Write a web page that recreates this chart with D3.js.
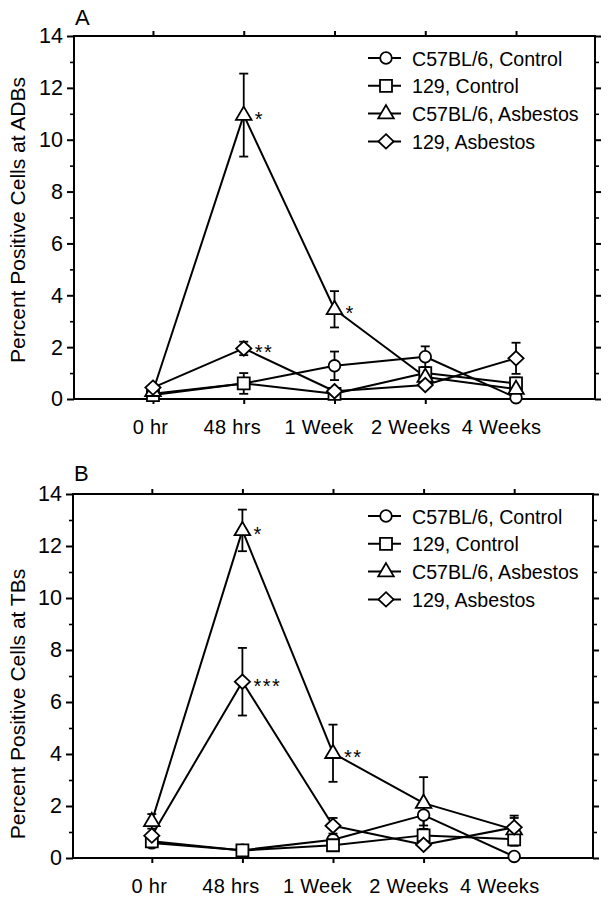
<!DOCTYPE html>
<html><head><meta charset="utf-8">
<script src="https://cdn.jsdelivr.net/npm/d3@7"></script>
<style>
html,body{margin:0;padding:0;background:#fff;}
svg{display:block;font-family:"Liberation Sans",Arial,Helvetica,sans-serif;}
</style></head>
<body><svg id="chart" width="611" height="900"></svg>
<script>
// ---------- data ----------
const categories = ["0 hr", "48 hrs", "1 Week", "2 Weeks", "4 Weeks"];
const seriesNames = ["C57BL/6, Control", "129, Control", "C57BL/6, Asbestos", "129, Asbestos"];
const seriesShapes = ["circle", "square", "triangle", "diamond"];
const yMajorTicks = [0, 2, 4, 6, 8, 10, 12, 14];
const yMinorTicks = [1, 3, 5, 7, 9, 11, 13];

// Panel A: ADBs
const adbC57Control    = [0.2, 0.6, 1.28, 1.63, 0.05];
const adbC57ControlErr = [0, 0, 0.55, 0.4, 0];
const adb129Control    = [0.15, 0.6, 0.2, 1.0, 0.6];
const adb129ControlErr = [0, 0.4, 0, 0.15, 0.2];
const adbC57Asbestos    = [0.3, 10.95, 3.46, 0.85, 0.38];
const adbC57AsbestosErr = [0, 1.6, 0.7, 0.2, 0.45];
const adb129Asbestos    = [0.44, 1.95, 0.3, 0.54, 1.57];
const adb129AsbestosErr = [0, 0.26, 0, 0, 0.6];
const adbStars = [["*", 2, 1], ["**", 3, 1], ["*", 2, 2]]; // [label, seriesIndex, categoryIndex]

// Panel B: TBs
const tbC57Control    = [0.58, 0.3, 0.7, 1.65, 0.06];
const tbC57ControlErr = [0.1, 0, 0.1, 0.4, 0];
const tb129Control    = [0.64, 0.29, 0.49, 0.87, 0.72];
const tb129ControlErr = [0, 0, 0.15, 0.25, 0.25];
const tbC57Asbestos    = [1.41, 12.6, 4.03, 2.11, 1.09];
const tbC57AsbestosErr = [0.28, 0.8, 1.1, 1.0, 0.45];
const tb129Asbestos    = [0.86, 6.78, 1.24, 0.51, 1.18];
const tb129AsbestosErr = [0.1, 1.3, 0.3, 0, 0.45];
const tbStars = [["*", 2, 1], ["***", 3, 1], ["**", 2, 2]];

// ---------- drawing ----------
const svg = d3.select("#chart");
const labelShift = [-3, -12, -16, -15, -15];

function drawMarker(g, shape, x, y) {
  if (shape === "circle") {
    g.append("circle").attr("cx", x).attr("cy", y).attr("r", 5.8)
      .attr("fill", "#fff").attr("stroke", "#000").attr("stroke-width", 1.8);
    return;
  }
  const d = shape === "square" ? "M-6,-6H6V6H-6Z"
          : shape === "triangle" ? "M0,-8.5L7.8,4.8H-7.8Z"
          : "M0,-7.2L7.6,0L0,7.2L-7.6,0Z";
  g.append("path").attr("d", d).attr("transform", `translate(${x},${y})`)
    .attr("fill", "#fff").attr("stroke", "#000").attr("stroke-width", 1.8);
}

function panel(opts) {
  const {left, right, top, bottom, label, labelY, title, titleCenter, values, errs, stars, legendTop} = opts;
  const g = svg.append("g");
  const x = d3.scaleLinear().domain([-0.87, 4.87]).range([left, right]);
  const y = d3.scaleLinear().domain([0, 14]).range([bottom, top]);
  const catIdx = categories.map((c, i) => i);

  g.append("rect").attr("x", left).attr("y", top).attr("width", right - left).attr("height", bottom - top)
    .attr("fill", "none").attr("stroke", "#000").attr("stroke-width", 2);

  const gl = g.append("g").attr("transform", `translate(${left},0)`)
    .call(d3.axisLeft(y).tickValues(yMajorTicks).tickSize(7).tickPadding(4).tickFormat(d3.format("d")));
  gl.select(".domain").remove();
  gl.selectAll("line").attr("stroke-width", 2);
  gl.selectAll("text").attr("font-size", 21.5).attr("font-family", "inherit").attr("fill", "#000");
  const glm = g.append("g").attr("transform", `translate(${left},0)`)
    .call(d3.axisLeft(y).tickValues(yMinorTicks).tickSize(4).tickFormat(""));
  glm.select(".domain").remove(); glm.selectAll("line").attr("stroke-width", 1.6);
  const gr = g.append("g").attr("transform", `translate(${right},0)`)
    .call(d3.axisRight(y).tickValues(yMajorTicks).tickSize(6).tickFormat(""));
  gr.select(".domain").remove(); gr.selectAll("line").attr("stroke-width", 2);
  const grm = g.append("g").attr("transform", `translate(${right},0)`)
    .call(d3.axisRight(y).tickValues(yMinorTicks).tickSize(4).tickFormat(""));
  grm.select(".domain").remove(); grm.selectAll("line").attr("stroke-width", 1.6);
  const gb = g.append("g").attr("transform", `translate(0,${bottom})`)
    .call(d3.axisBottom(x).tickValues(catIdx).tickSize(5).tickPadding(16).tickFormat(i => categories[i]));
  gb.select(".domain").remove(); gb.selectAll("line").attr("stroke-width", 2);
  gb.selectAll("text").attr("font-size", 20).attr("font-family", "inherit").attr("fill", "#000")
    .attr("dx", i => labelShift[i]).attr("letter-spacing", 0.3);
  const gt = g.append("g").attr("transform", `translate(0,${top})`)
    .call(d3.axisTop(x).tickValues(catIdx).tickSize(5).tickFormat(""));
  gt.select(".domain").remove(); gt.selectAll("line").attr("stroke-width", 2);

  g.append("text").attr("x", left + 1).attr("y", labelY).attr("font-size", 22).text(label);
  g.append("text").attr("transform", `translate(25,${titleCenter}) rotate(-90)`)
    .attr("text-anchor", "middle").attr("font-size", 21).text(title);

  const line = d3.line().x((d, i) => x(i)).y(d => y(d));
  values.forEach(v => {
    g.append("path").attr("d", line(v)).attr("fill", "none").attr("stroke", "#000")
      .attr("stroke-width", 2).attr("stroke-linejoin", "round");
  });
  values.forEach((v, s) => {
    v.forEach((val, i) => {
      const e = errs[s][i];
      if (!e) return;
      const cx = x(i), y1 = y(val + e), y0 = y(Math.max(0, val - e));
      g.append("line").attr("x1", cx).attr("x2", cx).attr("y1", y1).attr("y2", y0)
        .attr("stroke", "#000").attr("stroke-width", 1.8);
      [y1, y0].forEach(yy => g.append("line").attr("x1", cx - 4.5).attr("x2", cx + 4.5)
        .attr("y1", yy).attr("y2", yy).attr("stroke", "#000").attr("stroke-width", 1.8));
    });
  });
  values.forEach((v, s) => v.forEach((val, i) => drawMarker(g, seriesShapes[s], x(i), y(val))));
  stars.forEach(([t, s, i]) => {
    g.append("text").attr("x", x(i) + 11).attr("y", y(values[s][i]) + 11)
      .attr("font-size", 20).attr("letter-spacing", 1.5).text(t);
  });
  seriesNames.forEach((n, k) => {
    const ly = legendTop + k * 27.8;
    g.append("line").attr("x1", 368).attr("x2", 401).attr("y1", ly).attr("y2", ly)
      .attr("stroke", "#000").attr("stroke-width", 2);
    drawMarker(g, seriesShapes[k], 386, ly);
    g.append("text").attr("x", 412).attr("y", ly + 7.5).attr("font-size", 19.6).text(n);
  });
}

panel({left: 74, right: 595, top: 36, bottom: 399, label: "A", labelY: 25,
  title: "Percent Positive Cells at ADBs", titleCenter: 220,
  values: [adbC57Control, adb129Control, adbC57Asbestos, adb129Asbestos],
  errs: [adbC57ControlErr, adb129ControlErr, adbC57AsbestosErr, adb129AsbestosErr],
  stars: adbStars, legendTop: 58});

panel({left: 73, right: 593, top: 494, bottom: 858, label: "B", labelY: 481,
  title: "Percent Positive Cells at TBs", titleCenter: 704,
  values: [tbC57Control, tb129Control, tbC57Asbestos, tb129Asbestos],
  errs: [tbC57ControlErr, tb129ControlErr, tbC57AsbestosErr, tb129AsbestosErr],
  stars: tbStars, legendTop: 516});
</script></body></html>
